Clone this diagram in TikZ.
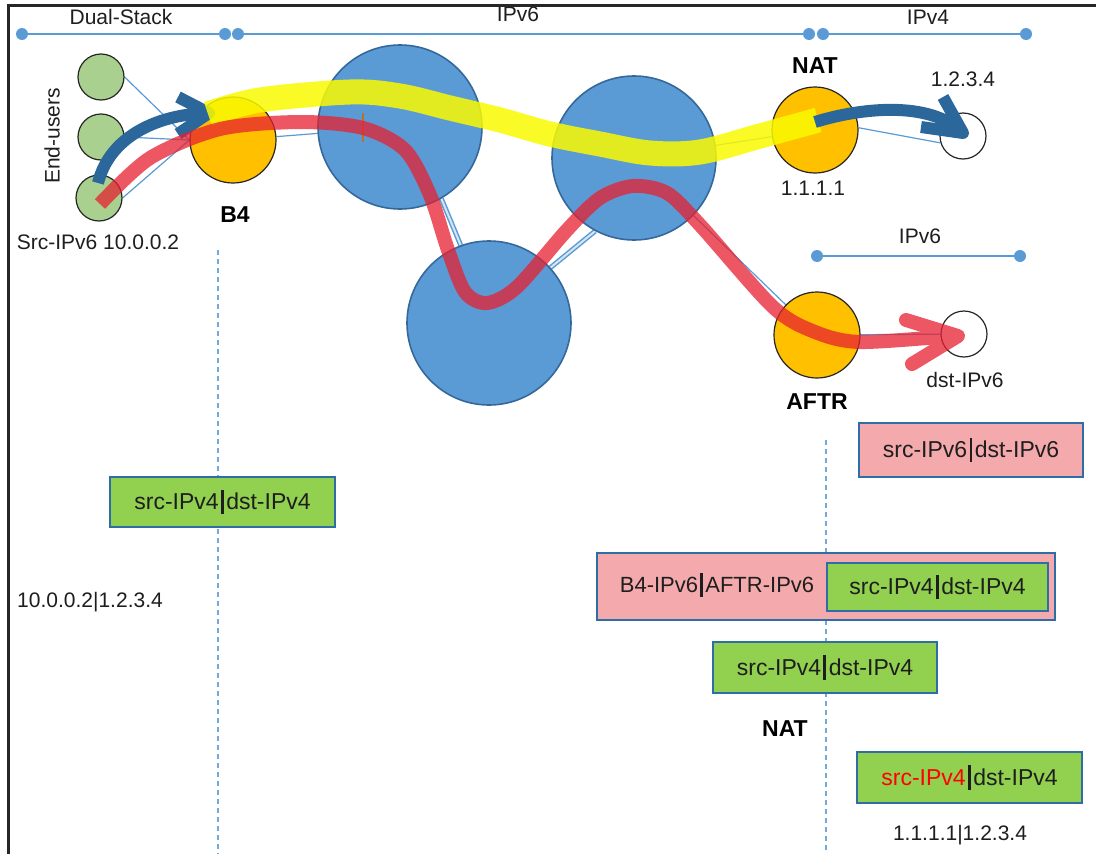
\documentclass[tikz,border=0pt]{standalone}
\usepackage{fontspec}
\setmainfont{Liberation Sans}
\usetikzlibrary{calc}

\definecolor{barblue}{RGB}{91,155,213}
\definecolor{cloudblue}{RGB}{91,155,213}
\definecolor{cloudedge}{RGB}{52,104,155}
\definecolor{usrgreen}{RGB}{169,208,142}
\definecolor{gworange}{RGB}{255,192,0}
\definecolor{pktgreen}{RGB}{146,208,80}
\definecolor{pktpink}{RGB}{244,170,172}
\definecolor{pktedge}{RGB}{46,109,165}
\definecolor{flowblue}{RGB}{44,103,155}
\definecolor{flowred}{RGB}{230,32,48}
\definecolor{flowyellow}{RGB}{250,250,0}
\definecolor{txt}{RGB}{30,30,30}
\definecolor{tick}{RGB}{190,110,40}

% thick separator bar used inside the packet headers
\newcommand\sepbar{\kern0.1em\rule[-0.2em]{0.13em}{1.08em}\kern0.1em}

\pgfdeclarelayer{paper}
\pgfdeclarelayer{bg}
\pgfsetlayers{paper,bg,main}

\begin{document}
\begin{tikzpicture}[x=1pt,y=-1pt,
  bar/.style={draw=barblue, line width=1.5pt},
  dot/.style={circle, fill=barblue, minimum size=12pt, inner sep=0pt},
  usr/.style={circle, draw=black!85, line width=1.2pt, fill=usrgreen, minimum size=46pt, inner sep=0pt},
  gw/.style={circle, draw=black!85, line width=1.2pt, fill=gworange, minimum size=86pt, inner sep=0pt},
  cloud/.style={circle, draw=cloudedge, line width=1.6pt, fill=cloudblue, minimum size=164pt, inner sep=0pt},
  host/.style={circle, draw=black!85, line width=1.2pt, fill=white, minimum size=46pt, inner sep=0pt},
  link/.style={draw=barblue, line width=1.2pt},
  dlink/.style={draw=barblue, line width=1.5pt, double=barblue!25, double distance=2pt},
  guide/.style={draw=barblue!85, line width=1.6pt, dash pattern=on 5pt off 4pt},
  lbl/.style={inner sep=1pt, text=txt, font=\fontsize{21}{24}\selectfont},
  boldlbl/.style={inner sep=1pt, text=black, font=\fontsize{23}{26}\selectfont\bfseries},
  pkt/.style={draw=pktedge, line width=2.6pt, inner sep=0pt, text=txt, font=\fontsize{23}{26}\selectfont},
  flow/.style={line width=12pt, draw=flowblue, line join=round},
]
\useasboundingbox (0,0) rectangle (1096,854);
\begin{pgfonlayer}{paper}
  \fill[white] (0,0) rectangle (1096,854);
\end{pgfonlayer}

% ---------- domain rulers ----------
\node[dot] (ds1) at (22,34) {};
\node[dot] (ds2) at (225,34) {};
\node[dot] (v6a) at (238,34) {};
\node[dot] (v6b) at (809,34) {};
\node[dot] (v4a) at (823,34) {};
\node[dot] (v4b) at (1026,34) {};
\node[dot] (v6c) at (817,256) {};
\node[dot] (v6d) at (1020,256) {};
\begin{pgfonlayer}{bg}
  \draw[bar] (ds1) -- (ds2);
  \draw[bar] (v6a) -- (v6b);
  \draw[bar] (v4a) -- (v4b);
  \draw[bar] (v6c) -- (v6d);
\end{pgfonlayer}
\node[lbl] (tds) at (121,17) {Dual-Stack};
\node[lbl] (tv6) at (518,14) {IPv6};
\node[lbl] (tv4) at (928,17) {IPv4};
\node[lbl] (tv6b) at (920,236) {IPv6};

% ---------- network nodes ----------
\node[usr] (u1) at (101,77) {};
\node[usr] (u2) at (101,137) {};
\node[usr] (u3) at (99,198) {};
\node[gw] (b4) at (233,140) {};
\node[cloud] (c1) at (400,127) {};
\node[cloud] (c2) at (634,158) {};
\node[cloud] (c3) at (489,323) {};
\node[gw] (nat) at (815,130) {};
\node[host] (h4) at (963,136) {};
\node[gw] (aftr) at (817,335) {};
\node[host] (h6) at (964,334) {};

\begin{pgfonlayer}{bg}
  \draw[link] (u1.east) -- (b4.west);
  \draw[link] (u2.east) -- (b4.west);
  \draw[link] (u3.east) -- (b4.west);
  \draw[link] (b4) -- (c1);
  \draw[dlink] (c1.-60) -- (c3.110);
  \draw[dlink] (c3.42) -- (c2.-118);
  \draw[link] (c2) -- (nat);
  \draw[link] (c2) -- (aftr);
  \draw[link] (nat.3) -- (h4.197);
  \draw[link] (aftr) -- (h6);
  % vertical guides
  \coordinate (g1top) at (218,250);
  \coordinate (g1bot) at (218,854);
  \coordinate (g2top) at (826,440);
  \coordinate (g2bot) at (826,854);
  \draw[guide] (g1top) -- (g1bot);
  \draw[guide] (g2top) -- (g2bot);
\end{pgfonlayer}

\draw[tick, line width=1.5pt] (363,113) -- (363,142);

% ---------- node labels ----------
\node[lbl, rotate=90] (tusers) at (52,136) {End-users};
\node[lbl] (tsrc) at (98,242) {Src-IPv6 10.0.0.2};
\node[boldlbl] (tb4) at (235,215) {B4};
\node[boldlbl] (tnat) at (815,66) {NAT};
\node[lbl] (tnatip) at (813,188) {1.1.1.1};
\node[lbl] (th4) at (963,79) {1.2.3.4};
\node[boldlbl] (taftr) at (817,402) {AFTR};
\node[lbl] (th6) at (965,380) {dst-IPv6};

% ---------- flows ----------
% IPv4 packet from the end user into B4
\coordinate (bs) at (98,183);
\coordinate (bt) at (209,113);
\draw[flow, line cap=butt] (bs) .. controls (110,135) and (160,114) .. (bt);
\draw[flow, line cap=butt] (178,97) -- (bt) -- (178,134);

% IPv4-in-IPv6 tunnel B4 -> NAT
\begin{scope}[transparency group, opacity=0.85]
  \draw[flowyellow, line width=25pt, line cap=butt]
    plot[smooth, tension=0.55] coordinates {(208,114) (260,100) (350,92) (400,96) (450,108)
      (500,120) (550,134) (600,144) (650,153) (700,152) (760,136) (818,120)};
\end{scope}

% native IPv6 path to dst-IPv6
\coordinate (rt) at (958,336);
\begin{scope}[transparency group, opacity=0.75]
  \draw[flowred, line width=14pt, line cap=butt, line join=round]
    plot[smooth, tension=0.5] coordinates {(100,204) (150,158) (220,129) (300,122) (363,128)
      (405,150) (430,195) (448,250) (465,292) (487,303) (517,287) (567,230) (600,198)
      (633,186) (667,193) (700,225) (773,307) (815,332) (860,342) (950,336)};
  \draw[flowred, line width=14pt, line cap=round, line join=round]
    (906,320) -- (rt) -- (912,364);
\end{scope}

% translated IPv4 packet NAT -> 1.2.3.4
\coordinate (ns) at (815,122);
\coordinate (nt) at (963,133);
\draw[flow, line cap=butt] (ns) .. controls (860,108) and (930,100) .. (nt);
\draw[flow, line cap=butt] (943,97) -- (nt) -- (921,127);

% ---------- packet headers ----------
\node[pkt, fill=pktgreen, minimum width=225pt, minimum height=50pt] (p1) at (222.5,502) {src-IPv4\sepbar dst-IPv4};
\node[lbl] (a1) at (90,602) {10.0.0.2|1.2.3.4};

\node[pkt, fill=pktpink, minimum width=224pt, minimum height=54pt] (p2) at (971,450) {src-IPv6\sepbar dst-IPv6};

\node[pkt, fill=pktpink, minimum width=458pt, minimum height=67pt] (p3) at (826,586.5) {};
\node[lbl, font=\fontsize{22}{26}\selectfont] (p3t) at (717,585) {B4-IPv6\sepbar AFTR-IPv6};
\node[pkt, fill=pktgreen, minimum width=221pt, minimum height=48pt] (p4) at (937.5,587) {src-IPv4\sepbar dst-IPv4};

\node[pkt, fill=pktgreen, minimum width=224pt, minimum height=51pt] (p5) at (825,667.5) {src-IPv4\sepbar dst-IPv4};
\node[boldlbl] (tnat2) at (785,729) {NAT};
\node[pkt, fill=pktgreen, minimum width=225pt, minimum height=51pt] (p6) at (969.5,777.5) {\textcolor{red}{src-IPv4}\sepbar dst-IPv4};
\node[lbl] (a2) at (960,835) {1.1.1.1|1.2.3.4};

% ---------- frame ----------
\draw[black!85, line width=3pt] (8,854) -- (8,5) -- (1096,5);
\end{tikzpicture}
\end{document}
